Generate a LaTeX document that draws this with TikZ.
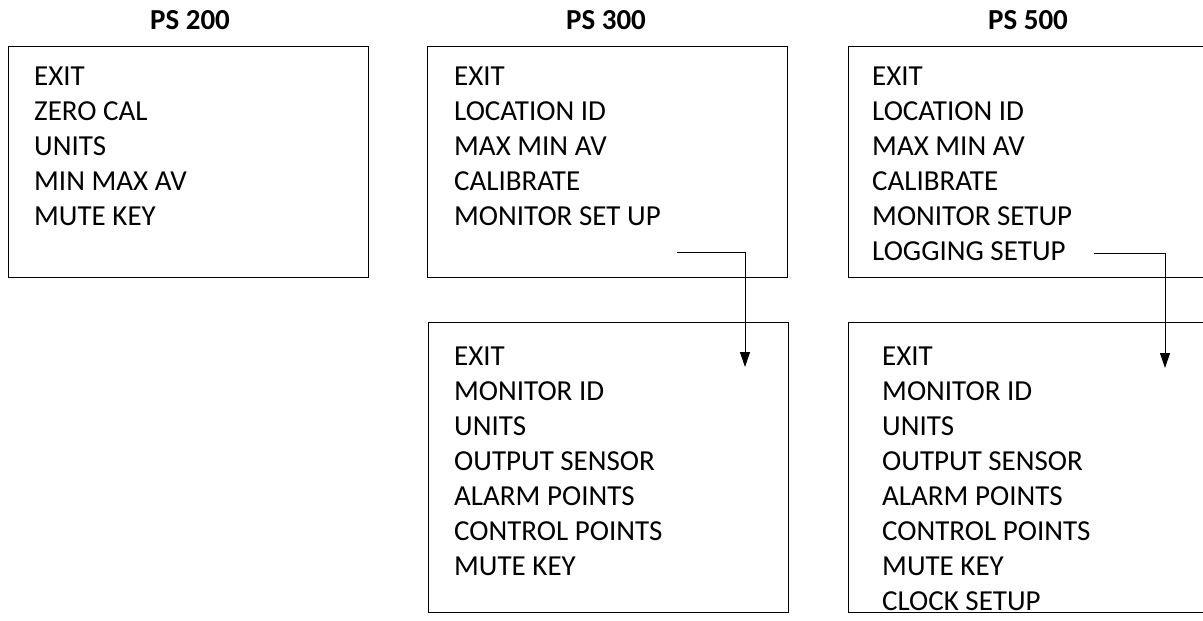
\documentclass[tikz,border=0pt]{standalone}
\usepackage{fontspec}
\setmainfont{Carlito}
\usetikzlibrary{arrows.meta}
\begin{document}
\begin{tikzpicture}[x=1pt,y=-1pt,
  menubox/.style={draw=black,line width=1pt,fill=none},
  item/.style={anchor=base west,inner sep=0pt,font=\fontsize{29}{35}\selectfont},
  title/.style={anchor=base,inner sep=0pt,font=\fontsize{29}{35}\selectfont\bfseries},
  link/.style={draw=black,line width=1pt,-{Triangle[length=15pt,width=10pt]}}]
\clip (0,0) rectangle (1203,621);
\fill[white] (0,0) rectangle (1203,621);
% titles
\node[title] (t200) at (190,30) {PS 200};
\node[title] (t300) at (606,30) {PS 300};
\node[title] (t500) at (1028,30) {PS 500};
% boxes
\draw[menubox] (8,46) rectangle (368,277);
\draw[menubox] (427,46) rectangle (787,277);
\draw[menubox] (848,46) rectangle (1208,277);
\draw[menubox] (428,322) rectangle (788,612);
\draw[menubox] (848,322) rectangle (1208,612);
% items
\foreach \t [count=\i] in {EXIT,ZERO CAL,UNITS,MIN MAX AV,MUTE KEY}
  \node[item] (a\i) at (34,{85+35*(\i-1)}) {\t};
\foreach \t [count=\i] in {EXIT,LOCATION ID,MAX MIN AV,CALIBRATE,MONITOR SET UP}
  \node[item] (b\i) at (454,{85+35*(\i-1)}) {\t};
\foreach \t [count=\i] in {EXIT,LOCATION ID,MAX MIN AV,CALIBRATE,MONITOR SETUP,LOGGING SETUP}
  \node[item] (c\i) at (872,{85+35*(\i-1)}) {\t};
\foreach \t [count=\i] in {EXIT,MONITOR ID,UNITS,OUTPUT SENSOR,ALARM POINTS,CONTROL POINTS,MUTE KEY}
  \node[item] (d\i) at (454,{365+35*(\i-1)}) {\t};
\foreach \t [count=\i] in {EXIT,MONITOR ID,UNITS,OUTPUT SENSOR,ALARM POINTS,CONTROL POINTS,MUTE KEY,CLOCK SETUP}
  \node[item] (e\i) at (882,{365+35*(\i-1)}) {\t};
% connectors
\coordinate (s300) at (677,252);
\coordinate (e300) at (745,367);
\coordinate (s500) at (1094,253);
\coordinate (e500) at (1165,368);
\draw[link] (s300) -| (e300);
\draw[link] (s500) -| (e500);
\end{tikzpicture}
\end{document}
